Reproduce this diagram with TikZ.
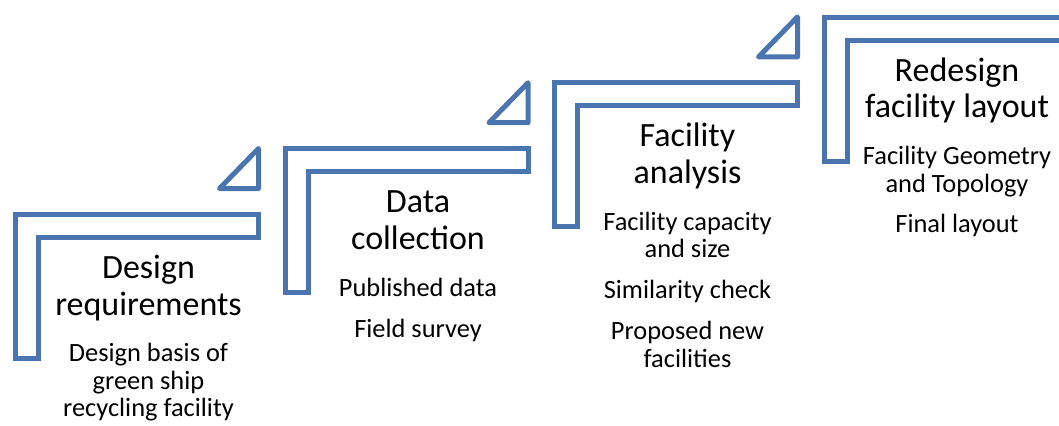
\documentclass[tikz,border=0pt]{standalone}
\usepackage{fontspec}
\setmainfont{Carlito}
\usepackage{tikz}
\usepackage{xcolor}
\definecolor{stepblue}{RGB}{74,117,175}

\tikzset{
  stepline/.style={draw=stepblue, line width=3.75pt},
  steptitle/.style={font=\fontsize{25.5}{27.4}\selectfont, align=center, anchor=base, inner sep=0pt},
  stepitems/.style={font=\fontsize{19.8}{20.6}\selectfont, align=center, anchor=base, inner sep=0pt},
}

\begin{document}
\begin{tikzpicture}[x=0.75pt, y=-0.75pt]
  \useasboundingbox (0,0) rectangle (1059,425);
  \clip (0,0) rectangle (1059,425);

  % L-shaped steps
  \foreach \k in {0,...,3} {
      \coordinate (s\k) at ({15.5+269.5*\k}, {214.5-65.8*\k});
      \draw[stepline] (s\k) -- ++(243,0) -- ++(0,23) -- ++(-220,0)
                     -- ++(0,121) -- ++(-23,0) -- cycle;
  }

  % small triangles above the steps
  \foreach \k in {0,1,2} {
      \draw[stepline, line join=round] (s\k) ++(243,-66) -- ++(0,40) -- ++(-39,0) -- cycle;
  }

  % step 1 (anchor base = last line)
  \node[steptitle] (design) at (148.5,315) {Design\\requirements};
  \node[stepitems] (basis) at (148.5,416.9) {Design basis of\\green ship\\recycling facility};

  % step 2
  \node[steptitle] (data) at (418,249.2) {Data\\collection};
  \node[stepitems] (sources) at (418,337) {Published data\\[10pt]Field survey};

  % step 3
  \node[steptitle] (analysis) at (687.5,183.4) {Facility\\analysis};
  \node[stepitems] (checks) at (687.5,367) {Facility capacity\\and size\\[10pt]Similarity check\\[10pt]Proposed new\\facilities};

  % step 4
  \node[steptitle] (redesign) at (957,117.6) {Redesign\\facility layout};
  \node[stepitems] (layout) at (957,232.9) {Facility Geometry\\and Topology\\[10pt]Final layout};
\end{tikzpicture}
\end{document}
